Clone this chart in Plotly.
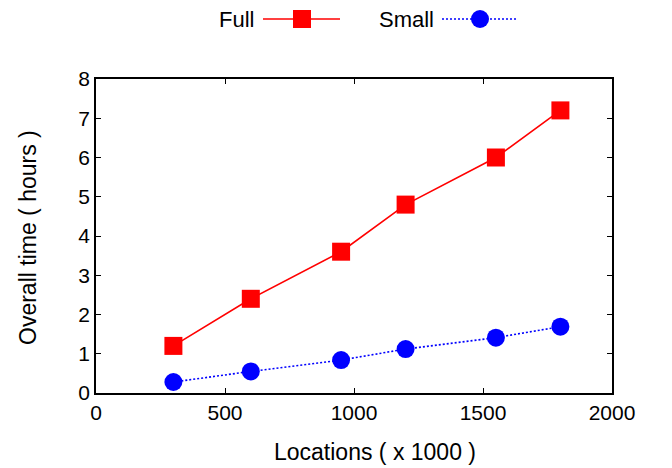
import plotly.graph_objects as go

# ---- data ----
locations = [300, 600, 950, 1200, 1550, 1800]          # x 1000
full_hours = [1.2, 2.4, 3.6, 4.8, 6.0, 7.2]
small_hours = [0.28, 0.55, 0.84, 1.12, 1.41, 1.69]
series_names = ["Full", "Small"]
x_ticks = [0, 500, 1000, 1500, 2000]
y_ticks = [0, 1, 2, 3, 4, 5, 6, 7, 8]
x_title = "Locations ( x 1000 )"
y_title = "Overall time ( hours )"

W, H = 672, 468
L, R, T, B = 96, 60, 79, 75
PW, PH = W - L - R, H - T - B
FONT = "Liberation Sans, Arial, sans-serif"


def px(xp):
    return (xp - L) / PW


def py(yp):
    return (H - B - yp) / PH


fig = go.Figure()
fig.add_trace(go.Scatter(
    x=locations, y=full_hours, name=series_names[0], mode="lines+markers",
    line=dict(color="#ff0000", width=1.6),
    marker=dict(symbol="square", size=18, color="#ff0000"),
    showlegend=False, cliponaxis=False))
fig.add_trace(go.Scatter(
    x=locations, y=small_hours, name=series_names[1], mode="lines+markers",
    line=dict(color="#0000ff", width=1.6, dash="2px,2px"),
    marker=dict(symbol="circle", size=18, color="#0000ff"),
    showlegend=False, cliponaxis=False))

axis_common = dict(
    showline=True, linecolor="black", linewidth=1.5, mirror="allticks",
    ticks="inside", ticklen=5, tickwidth=1, tickcolor="black",
    showgrid=False, zeroline=False,
    tickfont=dict(family=FONT, size=21, color="black"),
)
fig.update_xaxes(range=[0, 2000], tickvals=x_ticks,
                 ticktext=[str(v) for v in x_ticks], **axis_common)
fig.update_yaxes(range=[0, 8], tickvals=y_ticks,
                 ticktext=[str(v) for v in y_ticks], **axis_common)

annotations = [
    dict(text=x_title, x=px(375), y=py(452), xref="paper", yref="paper",
         showarrow=False, xanchor="center", yanchor="middle",
         font=dict(family=FONT, size=23, color="black")),
    dict(text=y_title, x=px(28), y=py(238), xref="paper", yref="paper",
         showarrow=False, xanchor="center", yanchor="middle", textangle=-90,
         font=dict(family=FONT, size=23, color="black")),
    dict(text=series_names[0], x=px(256), y=py(20), xref="paper", yref="paper",
         showarrow=False, xanchor="right", yanchor="middle",
         font=dict(family=FONT, size=22, color="black")),
    dict(text=series_names[1], x=px(436), y=py(20), xref="paper", yref="paper",
         showarrow=False, xanchor="right", yanchor="middle",
         font=dict(family=FONT, size=22, color="black")),
]

ly = 19
shapes = [
    dict(type="line", xref="paper", yref="paper", x0=px(263), x1=px(340),
         y0=py(ly), y1=py(ly), line=dict(color="#ff0000", width=1.6)),
    dict(type="rect", xref="paper", yref="paper", x0=px(302 - 9), x1=px(302 + 9),
         y0=py(ly + 9), y1=py(ly - 9), fillcolor="#ff0000", line=dict(width=0)),
    dict(type="line", xref="paper", yref="paper", x0=px(442), x1=px(518),
         y0=py(ly), y1=py(ly), line=dict(color="#0000ff", width=1.6, dash="2px,2px")),
    dict(type="circle", xref="paper", yref="paper", x0=px(480 - 9), x1=px(480 + 9),
         y0=py(ly + 9), y1=py(ly - 9), fillcolor="#0000ff", line=dict(width=0)),
]

fig.update_layout(
    width=W, height=H,
    margin=dict(l=L, r=R, t=T, b=B, pad=0),
    paper_bgcolor="white", plot_bgcolor="white",
    showlegend=False,
    annotations=annotations, shapes=shapes,
    font=dict(family=FONT, color="black"),
)

fig.write_html(
    "out.html",
    config={"displayModeBar": False},
    post_script="document.body.style.margin='0';document.body.style.padding='0';",
)
